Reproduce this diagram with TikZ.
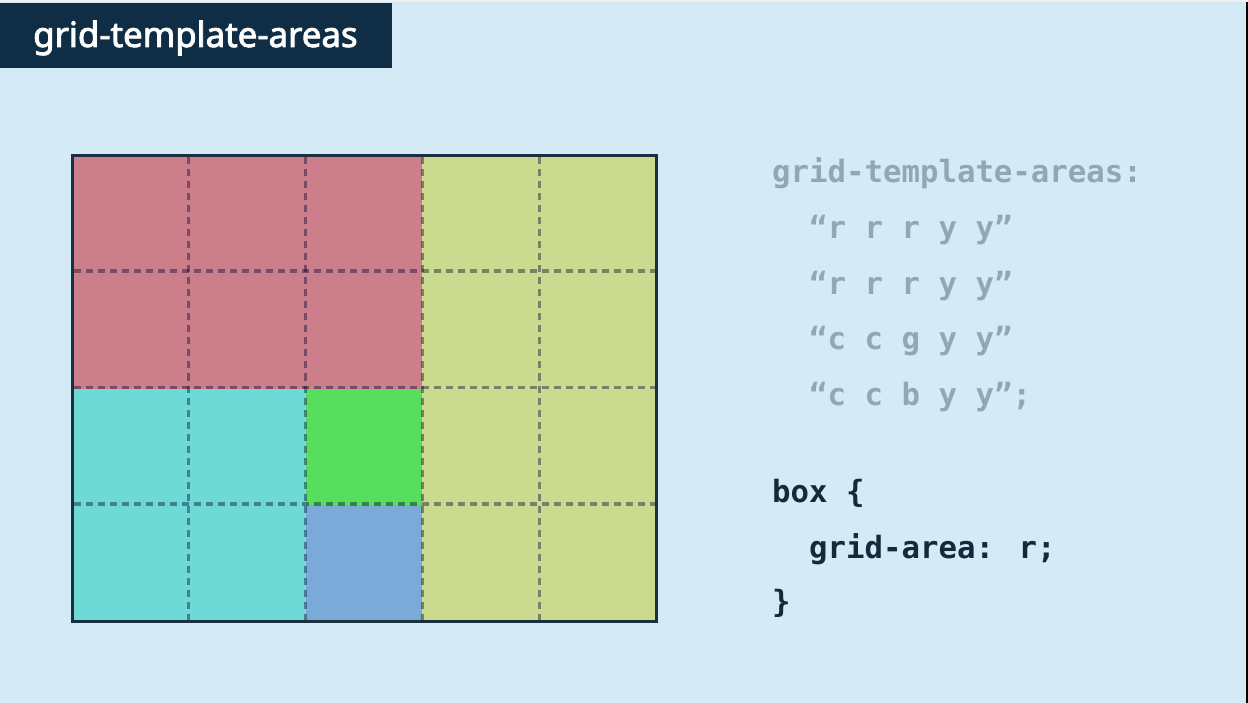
\documentclass[tikz,border=0pt]{standalone}
\usepackage{fontspec}
\setmainfont{Noto Sans}
\newfontfamily\codefont{DejaVu Sans Mono}
\newfontfamily\titlefont[FakeBold=2.5]{Noto Sans}
\definecolor{bg}{HTML}{D4EAF6}
\definecolor{navy}{HTML}{0F2D45}
\definecolor{cred}{HTML}{CC7E8B}
\definecolor{cyel}{HTML}{CADA8E}
\definecolor{ccyan}{HTML}{6DDAD6}
\definecolor{cgreen}{HTML}{58DE5E}
\definecolor{cblue}{HTML}{7AABD8}
\definecolor{codegray}{HTML}{90A7B7}
\definecolor{codedark}{HTML}{14293A}
\definecolor{border}{HTML}{1A3040}
\tikzset{
  gridline/.style={line width=3.3pt, draw=black!80!blue, draw opacity=0.4, dash pattern=on 7pt off 5pt},
  codeline/.style={anchor=base west, inner sep=0pt, font=\codefont\bfseries\fontsize{30.7}{30.7}\selectfont},
  graycode/.style={codeline, text=codegray},
  darkcode/.style={codeline, text=codedark},
}
\begin{document}
\begin{tikzpicture}[x=1pt,y=-1pt]
\useasboundingbox (0,0) rectangle (1248,703);
\fill[bg] (0,0) rectangle (1248,703);
\fill[white!88!gray] (0,0) rectangle (1248,2.5);
\fill[black] (1246.3,2.5) rectangle (1248,703);
\fill[navy] (0,3) rectangle (392,68);
\node[anchor=base west, inner sep=0pt, text=white!94!bg, font=\titlefont\fontsize{34.8}{34.8}\selectfont] (title) at (33,47) {grid-template-areas};
% grid areas
\fill[cred] (72,156) rectangle (422.4,388.5);
\fill[cyel] (422.4,156) rectangle (656,621);
\fill[ccyan] (72,388.5) rectangle (305.6,621);
\fill[cgreen] (305.6,388.5) rectangle (422.4,504.75);
\fill[cblue] (305.6,504.75) rectangle (422.4,621);
\foreach \x in {188.8,305.6,422.4,539.2}
  \draw[gridline] (\x,157.5) -- (\x,619.5);
\foreach \y in {271,387.5,504}
  \draw[gridline] (73.5,\y) -- (654.5,\y);
\draw[border, line width=3pt] (72,156) rectangle (656,621);
% code
\node[graycode] (l1) at (772,183) {grid-template-areas:};
\node[graycode] (l2) at (809,239) {“r r r y y”};
\node[graycode] (l3) at (809,295) {“r r r y y”};
\node[graycode] (l4) at (809,350) {“c c g y y”};
\node[graycode] (l5) at (809,406) {“c c b y y”;};
\node[darkcode] (l6) at (772,502) {box \{};
\node[darkcode] (l7) at (809,558) {grid-area: r;};
\node[darkcode] (l8) at (772,612) {\}};
\end{tikzpicture}
\end{document}
